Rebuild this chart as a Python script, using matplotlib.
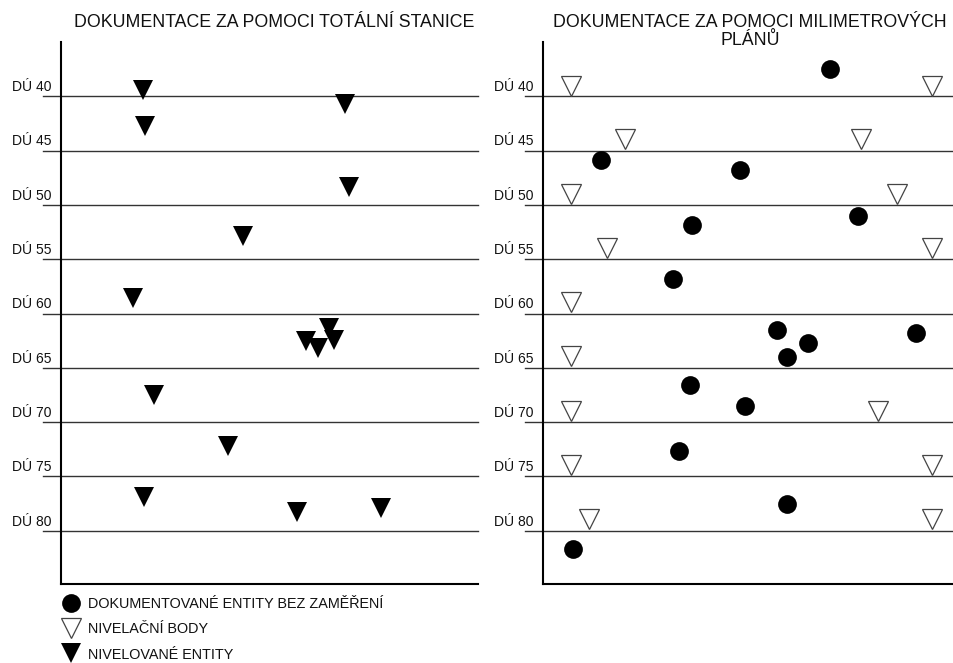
import matplotlib
matplotlib.use("Agg")
import matplotlib.pyplot as plt
from matplotlib.transforms import blended_transform_factory

plt.rcParams['font.family'] = ['Liberation Sans', 'DejaVu Sans']

# ---- data ----
levels = [40, 45, 50, 55, 60, 65, 70, 75, 80]
level_labels = ["DÚ 40", "DÚ 45", "DÚ 50", "DÚ 55", "DÚ 60", "DÚ 65", "DÚ 70", "DÚ 75", "DÚ 80"]

title_left = "DOKUMENTACE ZA POMOCI TOTÁLNÍ STANICE"
title_right_lines = ["DOKUMENTACE ZA POMOCI MILIMETROVÝCH", "PLÁNŮ"]

# left panel: nivelované entity (filled triangles)
nivel_ent_x = [19.7, 68.1, 20.1, 69.1, 43.7, 17.3, 58.8, 61.6, 64.3, 65.5, 22.3, 40.0, 19.9, 56.6, 76.7]
nivel_ent_y = [39.45, 40.74, 42.76, 48.37, 52.86, 58.58, 62.54, 63.18, 61.3, 62.4, 67.5, 72.2, 76.9, 78.3, 77.9]

# right panel: nivelační body (open triangles)
nivel_body_x = [6.7, 94.7, 19.9, 77.4, 6.7, 86.0, 15.4, 94.7, 6.7, 6.7, 6.7, 81.6, 6.7, 94.7, 11.1, 94.7]
nivel_body_y = [39.03, 39.03, 43.96, 43.96, 48.95, 48.95, 53.94, 53.94, 58.95, 63.9, 68.93, 68.93, 73.95, 73.95, 78.93, 78.93]

# right panel: dokumentované entity bez zaměření (filled circles)
dok_x = [69.8, 14.0, 47.9, 36.1, 76.6, 31.5, 56.8, 64.5, 59.3, 90.7, 35.6, 49.2, 32.9, 59.3, 7.2]
dok_y = [37.45, 45.89, 46.8, 51.87, 51.04, 56.86, 61.53, 62.75, 64.04, 61.83, 66.56, 68.52, 72.63, 77.53, 81.7]

legend_labels = ["DOKUMENTOVANÉ ENTITY BEZ ZAMĚŘENÍ", "NIVELAČNÍ BODY", "NIVELOVANÉ ENTITY"]

W, H = 954, 663
fig = plt.figure(figsize=(W / 100, H / 100), dpi=100)

def fx(px):
    return px / W

def fy(py):
    return 1 - py / H

ax1 = fig.add_axes([fx(61), fy(584), fx(478) - fx(61), fy(42) - fy(584)])
ax2 = fig.add_axes([fx(543.5), fy(584), fx(954) - fx(543.5), fy(42) - fy(584)])

for ax, width_px in ((ax1, 417), (ax2, 410.5)):
    ax.set_xlim(0, 100)
    ax.set_ylim(84.9, 35.0)
    ax.set_xticks([])
    ax.set_yticks([])
    for s in ('top', 'right'):
        ax.spines[s].set_visible(False)
    for s in ('left', 'bottom'):
        ax.spines[s].set_linewidth(1.5)
        ax.spines[s].set_color('black')
    ext = 18 / width_px * 100
    lab_off = -49 / width_px
    tr = blended_transform_factory(ax.transAxes, ax.transData)
    for lv, lb in zip(levels, level_labels):
        ax.plot([-ext, 100], [lv, lv], color='#333333', lw=1.0, clip_on=False, zorder=1)
        ax.text(lab_off, lv - 0.2, lb, transform=tr, ha='left', va='bottom',
                fontsize=10, color='#111111')

h_tri = ax1.plot(nivel_ent_x, nivel_ent_y, linestyle='none', marker='v', markersize=14,
                 color='black', markeredgewidth=0, zorder=3)[0]
h_open = ax2.plot(nivel_body_x, nivel_body_y, linestyle='none', marker='v', markersize=14,
                  markerfacecolor='white', markeredgecolor='#444444', markeredgewidth=0.9, zorder=3)[0]
h_circ = ax2.plot(dok_x, dok_y, linestyle='none', marker='o', markersize=13.5,
                  color='black', markeredgewidth=0, zorder=3)[0]

fig.text(fx(274), fy(27), title_left, ha='center', va='baseline', fontsize=12.8, color='#111111')
for i, line in enumerate(title_right_lines):
    fig.text(fx(750), fy(27 + 18 * i), line, ha='center', va='baseline', fontsize=12.8,
             color='#111111')

leg = fig.legend([h_circ, h_open, h_tri], legend_labels, loc='upper left',
                 bbox_to_anchor=(fx(63.5), fy(597)), frameon=False, fontsize=10.4,
                 handlelength=1.0, handletextpad=0.7, labelspacing=0.78,
                 borderpad=0, borderaxespad=0, markerscale=1.0)
for t in leg.get_texts():
    t.set_color('#111111')

fig.savefig("out.png", dpi=100)
